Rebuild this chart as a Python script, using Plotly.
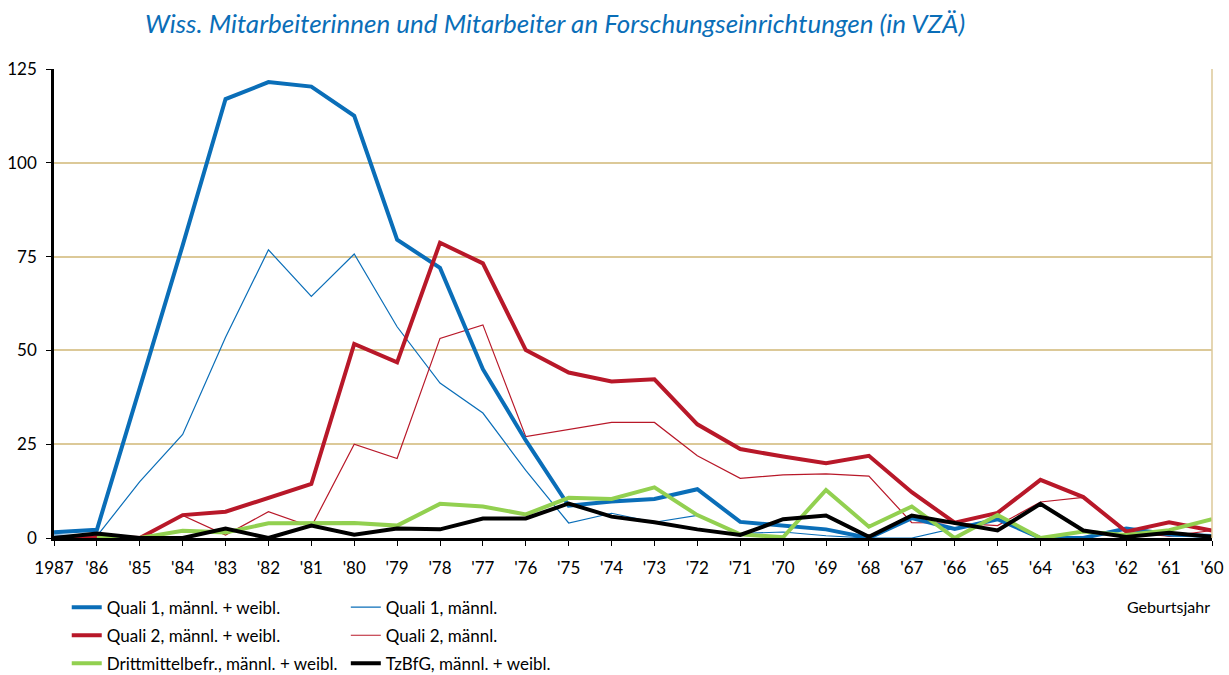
import plotly.graph_objects as go

years = ["1987", "'86", "'85", "'84", "'83", "'82", "'81", "'80", "'79", "'78", "'77", "'76", "'75", "'74",
         "'73", "'72", "'71", "'70", "'69", "'68", "'67", "'66", "'65", "'64", "'63", "'62", "'61", "'60"]

quali1_mw = [1.5, 2.2, 40, 78, 117, 121.5, 120.3, 112.5, 79.5, 72, 45, 26, 8.6, 9.7,
             10.4, 13, 4.3, 3.2, 2.3, 0, 5.3, 2.4, 5, 0, 0, 2.5, 1, 0.5]
quali1_m = [0.8, 0.5, 15, 27.6, 53.5, 76.8, 64.4, 75.7, 56.3, 41.3, 33.3, 18, 4, 6.6,
            4.2, 6, 1.2, 1.6, 0.6, 0, 0, 2.6, 5.2, 0, 0, 2.5, 0.5, 0.5]
quali2_mw = [0, 0.3, 0, 6.1, 7, 10.7, 14.4, 51.7, 46.8, 78.7, 73.2, 50.1, 44.1, 41.7,
             42.3, 30.3, 23.7, 21.7, 19.9, 21.9, 12.2, 4.1, 6.7, 15.5, 10.9, 1.7, 4.2, 2]
quali2_m = [0, 0, 0, 6, 0.8, 7, 3, 25, 21.2, 53.2, 56.8, 27, 29, 30.8,
            30.8, 21.9, 15.9, 16.8, 17.1, 16.5, 4.1, 4, 3.3, 9.6, 10.8, 1.5, 0.5, 2]
dritt_mw = [None, 0, 0, 1.9, 1.5, 3.9, 4, 4, 3.3, 9.1, 8.4, 6.3, 10.7, 10.4,
            13.5, 6.1, 1, 0.2, 12.8, 3, 8.4, 0, 6.1, 0, 1.7, 0.8, 2.1, 5]
tzbfg_mw = [0, 1.2, 0, 0, 2.5, 0, 3.3, 0.9, 2.5, 2.3, 5.2, 5.2, 9.2, 5.7,
            4.2, 2.3, 0.8, 5, 6, 0.3, 6, 3.9, 2, 9.1, 2, 0.3, 1.4, 0.3]

BLUE = "#0A6EB8"
RED = "#B81829"
GREEN = "#92D050"
BLACK = "#000000"
GRID = "#DCC998"
FONT = "Lato, 'Open Sans', sans-serif"

series = [
    ("Quali 1, männl. + weibl.", quali1_mw, BLUE, 4, "legend"),
    ("Quali 1, männl.", quali1_m, BLUE, 1.2, "legend2"),
    ("Quali 2, männl. + weibl.", quali2_mw, RED, 4, "legend"),
    ("Quali 2, männl.", quali2_m, RED, 1.2, "legend2"),
    ("Drittmittelbefr., männl. + weibl.", dritt_mw, GREEN, 4, "legend"),
    ("TzBfG, männl. + weibl.", tzbfg_mw, BLACK, 4, "legend2"),
]

# draw order: thin lines first, thick afterwards
order = [1, 3, 0, 2, 4, 5]
fig = go.Figure()
for i in order:
    name, vals, col, w, lg = series[i]
    fig.add_trace(go.Scatter(
        x=years, y=vals, name=name, mode="lines",
        line=dict(color=col, width=w),
        legend=lg, legendgroup=name, legendrank=i,
        connectgaps=False, hoverinfo="skip",
    ))

legend_common = dict(
    orientation="v", xanchor="left", yanchor="top",
    font=dict(family=FONT, size=17, color="#000000"),
    bgcolor="rgba(0,0,0,0)", traceorder="grouped", tracegroupgap=3,
    itemwidth=30,
)

fig.update_layout(
    width=1229, height=675,
    margin=dict(l=54, r=17, t=69, b=137, autoexpand=False),
    paper_bgcolor="white", plot_bgcolor="white",
    title=dict(
        text="<i>Wiss. Mitarbeiterinnen und Mitarbeiter an Forschungseinrichtungen (in VZÄ)</i>",
        font=dict(family=FONT, size=26, color="#0A6EB8"),
        x=555 / 1229, xanchor="center", y=1 - 24 / 675, yanchor="middle",
    ),
    xaxis=dict(
        type="category", range=[0, 27],
        showgrid=False, showline=True, linecolor="#000000", linewidth=2.5,
        ticks="outside", ticklen=5, tickcolor="#000000", tickwidth=1,
        tickfont=dict(family=FONT, size=17, color="#000000"),
        ticklabelstandoff=8, zeroline=False,
    ),
    yaxis=dict(
        range=[0, 125], tickvals=[0, 25, 50, 75, 100, 125],
        showgrid=True, gridcolor=GRID, gridwidth=1.5,
        showline=True, linecolor="#000000", linewidth=2.5,
        ticks="outside", ticklen=5, tickcolor="#000000",
        tickfont=dict(family=FONT, size=17, color="#000000"),
        ticklabelstandoff=6, zeroline=False,
    ),
    legend=dict(x=0.011, y=-0.110, **legend_common),
    legend2=dict(x=0.252, y=-0.110, **legend_common),
    showlegend=True,
    shapes=[dict(type="line", xref="paper", yref="paper", x0=1, x1=1, y0=0, y1=1,
                 line=dict(color=GRID, width=1.5))],
    annotations=[dict(text="Geburtsjahr", xref="paper", yref="paper", x=1.0, y=-0.145,
                      xanchor="right", yanchor="middle", showarrow=False,
                      font=dict(family=FONT, size=16, color="#000000"))],
)

fig.write_html("out.html", config={"displayModeBar": False},
               post_script="document.body.style.margin='0';document.body.style.overflow='hidden';")
